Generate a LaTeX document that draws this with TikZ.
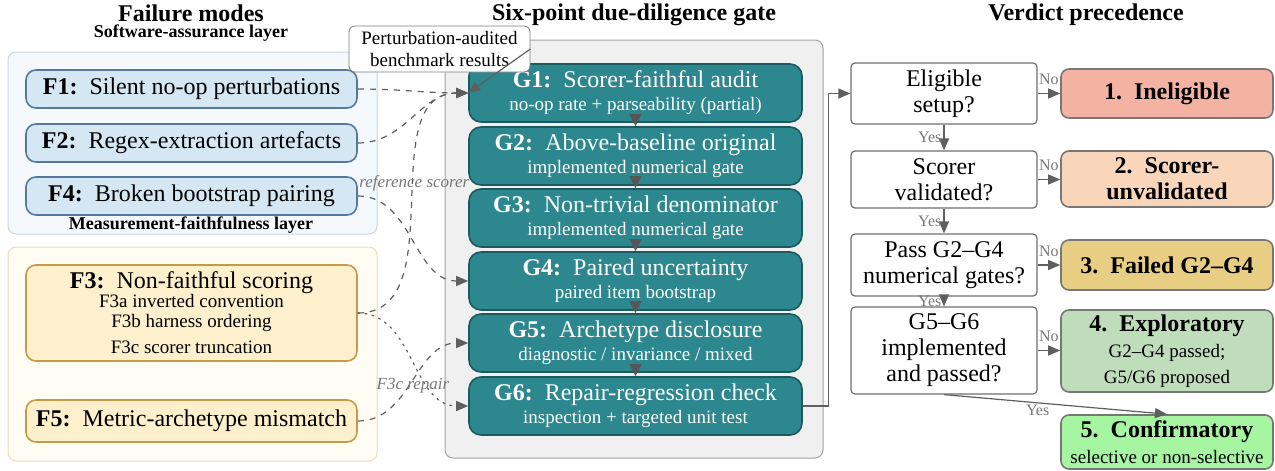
\documentclass[tikz,border=0pt]{standalone}
\usepackage{fontspec}
\setmainfont{Liberation Serif}
\usetikzlibrary{arrows.meta}

\definecolor{layerblue}{HTML}{F5F8FC}
\definecolor{layerblueedge}{HTML}{C9D6E6}
\definecolor{modeblue}{HTML}{D6E7F4}
\definecolor{modeblueedge}{HTML}{55799B}
\definecolor{layersand}{HTML}{FFFCF4}
\definecolor{layersandedge}{HTML}{EBDDBB}
\definecolor{modesand}{HTML}{FEF0CC}
\definecolor{modesandedge}{HTML}{C59C45}
\definecolor{gatepanel}{HTML}{F0F0F0}
\definecolor{gatepaneledge}{HTML}{A3A3A3}
\definecolor{gatefill}{HTML}{2D878E}
\definecolor{gateedge}{HTML}{1C5A60}
\definecolor{linkgray}{HTML}{5F5F5F}
\definecolor{verdone}{HTML}{F4B3A2}
\definecolor{verdtwo}{HTML}{F9D6B9}
\definecolor{verdthree}{HTML}{E7CE82}
\definecolor{verdfour}{HTML}{BFDCBB}
\definecolor{verdfive}{HTML}{A6F5A1}

\begin{document}
\begin{tikzpicture}[x=0.5pt,y=-0.5pt,
  title/.style={font=\fontsize{12}{14}\selectfont\bfseries,inner sep=0.5pt},
  layerlbl/.style={font=\fontsize{9}{10}\selectfont\bfseries,inner sep=0.5pt},
  layer/.style={draw=#1edge,fill=#1,rounded corners=4pt,line width=0.5pt},
  mode/.style={draw=#1edge,fill=#1,rounded corners=5pt,line width=0.8pt,
    minimum width=165.5pt,inner sep=0pt,align=center,font=\fontsize{12}{14}\selectfont},
  gate/.style={draw=gateedge,fill=gatefill,text=white,rounded corners=6pt,line width=0.8pt,
    minimum width=166.5pt,minimum height=29pt,inner sep=0pt,align=center,
    font=\fontsize{9.5}{11.5}\selectfont},
  note/.style={draw=linkgray!80,fill=white,rounded corners=3pt,align=center,
    minimum width=90.5pt,minimum height=23pt,inner sep=1pt,font=\fontsize{9.5}{11}\selectfont},
  dec/.style={draw=linkgray!90,fill=white,rounded corners=2pt,line width=0.6pt,
    minimum width=93pt,inner sep=0pt,align=center,font=\fontsize{12}{13}\selectfont},
  verdict/.style={draw=linkgray!85,fill=#1,rounded corners=4pt,line width=0.8pt,
    minimum width=106pt,inner sep=0pt,align=center,font=\fontsize{12}{13}\selectfont},
  link/.style={draw=linkgray,semithick,-{Triangle[length=6pt,width=5pt]}},
  step link/.style={draw=linkgray!90!black,semithick,-{Triangle[length=6pt,width=6pt]}},
  feed/.style={link,dashed},
  fix/.style={link,dash pattern=on 1pt off 2.6pt,line cap=round},
  lbl/.style={font=\fontsize{8}{9}\selectfont,text=linkgray!85,inner sep=1pt},
  note lbl/.style={font=\fontsize{8.5}{9}\selectfont\itshape,text=linkgray!85,inner sep=0pt}]

\useasboundingbox (0,0) rectangle (1275,471);

% failure modes
\node[title] (fmtitle) at (191,13) {Failure modes};
\node[layerlbl] (swlayer) at (191,33) {Software-assurance layer};
\draw[layer=layerblue] (8,52) rectangle (377,234);
\draw[layer=layersand] (8,247) rectangle (377,461);
\node[layerlbl] (mflayer) at (191,225) {Measurement-faithfulness layer};

\node[mode=modeblue,minimum height=19pt] (f1) at (191.5,89) {\textbf{F1:}\enspace Silent no-op perturbations};
\node[mode=modeblue,minimum height=19pt] (f2) at (191.5,143) {\textbf{F2:}\enspace Regex-extraction artefacts};
\node[mode=modeblue,minimum height=19pt] (f4) at (191.5,196) {\textbf{F4:}\enspace Broken bootstrap pairing};
\node[mode=modesand,minimum height=48pt,font=\fontsize{9.5}{9.5}\selectfont] (f3) at (191.5,313)
  {{\fontsize{12}{12}\selectfont\textbf{F3:}\enspace Non-faithful scoring}\\
   F3a inverted convention\\[0.5pt]
   F3b harness ordering\\[3.5pt]
   F3c scorer truncation};
\node[mode=modesand,minimum height=21pt] (f5) at (191.5,421) {\textbf{F5:}\enspace Metric-archetype mismatch};

% gate
\node[title] (gttitle) at (634,15) {Six-point due-diligence gate};
\draw[layer=gatepanel] (445,40) rectangle (823,458);
\foreach \n/\y/\head/\sub in {1/93/Scorer-faithful audit/no-op rate + parseability (partial),
    2/156/Above-baseline original/implemented numerical gate,
    3/218/Non-trivial denominator/implemented numerical gate,
    4/281/Paired uncertainty/paired item bootstrap,
    5/343/Archetype disclosure/{diagnostic / invariance / mixed},
    6/406/Repair-regression check/inspection + targeted unit test}
  \node[gate] (g\n) at (635.5,\y) {{\fontsize{12}{12}\selectfont\textbf{G\n:}\enspace\head}\\\sub};
\foreach \a/\b in {1/2,2/3,3/4,4/5,5/6}
  \draw[step link] (g\a.south) -- (g\b.north);

\node[note] (audited) at (439.5,49) {Perturbation-audited\\benchmark results};
\draw[link] (audited.east) -- (g1.west);

% links from failure modes into the gate
\draw[feed] (f1.east) to[out=0,in=180] (g1.west);
\draw[feed] (f2.east) to[out=0,in=180] (g1.west);
\draw[feed] (f3.east) to[out=0,in=180] node[note lbl,pos=0.56] {reference scorer} (g1.west);
\draw[feed] (f4.east) to[out=0,in=180] (g4.west);
\draw[feed] (f5.east) to[out=0,in=180] (g5.west);
\draw[fix] (f3.east) to[out=0,in=180] node[note lbl,pos=0.5,below=9pt] {F3c repair} (g6.west);

% verdict precedence
\node[title] (vptitle) at (1086,15) {Verdict precedence};
\node[dec,minimum height=30.5pt] (d1) at (944,93.5) {Eligible\\setup?};
\node[dec,minimum height=28.5pt] (d2) at (944,179.5) {Scorer\\validated?};
\node[dec,minimum height=31pt] (d3) at (944,265) {Pass G2--G4\\numerical gates?};
\node[dec,minimum height=43.5pt] (d4) at (944,350.5) {G5--G6\\implemented\\and passed?};

\node[verdict=verdone,minimum height=24.5pt] (v1) at (1167,93.5) {\textbf{1.\enspace Ineligible}};
\node[verdict=verdtwo,minimum height=28pt] (v2) at (1167,179) {\textbf{2.\enspace Scorer-}\\\textbf{unvalidated}};
\node[verdict=verdthree,minimum height=25pt] (v3) at (1167,265) {\textbf{3.\enspace Failed G2--G4}};
\node[verdict=verdfour,minimum height=41pt] (v4) at (1167,351)
  {\textbf{4.\enspace Exploratory}\\{\fontsize{9.5}{12}\selectfont G2--G4 passed;}\\{\fontsize{9.5}{12}\selectfont G5/G6 proposed}};
\node[verdict=verdfive,minimum height=27pt] (v5) at (1167,442)
  {\textbf{5.\enspace Confirmatory}\\{\fontsize{9.5}{11.5}\selectfont selective or non-selective}};

\draw[link] (g6.east) -- ++(13pt,0) |- (d1.west);
\draw[link] (d1) -- node[lbl,left] {Yes} (d2);
\draw[link] (d2) -- node[lbl,left] {Yes} (d3);
\draw[link] (d3) -- node[lbl,left] {Yes} (d4);
\draw[link] (d4.south) -- node[lbl,pos=0.42,below] {Yes} (v5.north);
\draw[link] (d1.east) -- node[lbl,above=3pt] {No} (d1.east -| v1.west);
\draw[link] (d2.east) -- node[lbl,above=3pt] {No} (d2.east -| v2.west);
\draw[link] (d3.east) -- node[lbl,above=3pt] {No} (d3.east -| v3.west);
\draw[link] (d4.east) -- node[lbl,above=3pt] {No} (d4.east -| v4.west);

\end{tikzpicture}
\end{document}
